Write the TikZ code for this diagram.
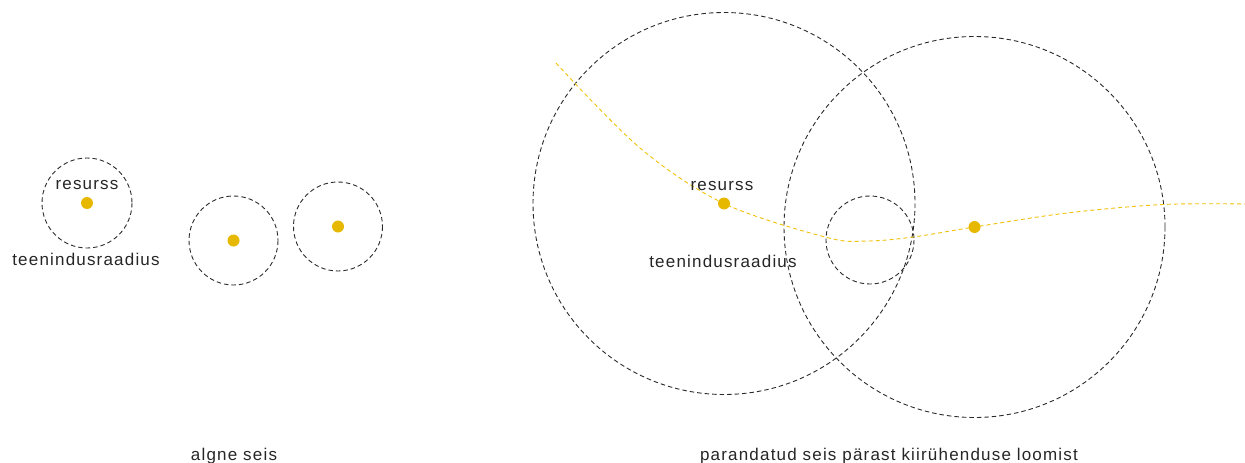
\documentclass[tikz,border=0pt]{standalone}
\usepackage{fontspec}
\newfontfamily\lblfont[LetterSpace=7]{Liberation Sans}
\definecolor{ringgray}{HTML}{2A2A2A}
\definecolor{resyellow}{HTML}{E6B800}
\definecolor{linkyellow}{HTML}{F0C20A}
\begin{document}
\begin{tikzpicture}[x=1pt,y=-1pt,
  ring/.style={draw=ringgray,line width=0.9pt,dash pattern=on 4.5pt off 3pt},
  resdot/.style={circle,fill=resyellow,inner sep=0pt,minimum size=12pt},
  lbl/.style={font=\lblfont\fontsize{17}{20}\selectfont,text=black!85,inner sep=0pt,anchor=base},
  link/.style={draw=linkyellow,line width=0.9pt,dash pattern=on 4pt off 3pt}]
\useasboundingbox (0,0) rectangle (1245,463);

% --- initial state ---
\coordinate (a1) at (87,203);
\coordinate (a2) at (233.5,240.5);
\coordinate (a3) at (338,226.5);
\draw[ring] (a1) circle (45);
\draw[ring] (a2) circle (44.5);
\draw[ring] (a3) circle (44.5);
\node[resdot] (d1) at (a1) {};
\node[resdot] (d2) at (a2) {};
\node[resdot] (d3) at (a3) {};
\node[lbl] (r1) at (87,189) {resurss};
\node[lbl] (t1) at (86,265) {teenindusraadius};
\node[lbl] (cap1) at (234,460) {algne seis};

% --- improved state after the fast link ---
\coordinate (b1) at (724,203.5);
\coordinate (b2) at (974.5,227);
\coordinate (b3) at (870,240);
\draw[ring] (b1) circle (191);
\draw[ring] (b2) circle (190.5);
\draw[ring] (b3) circle (44);
\coordinate (ls) at (556,63);
\coordinate (le) at (1245,204);
\draw[link] plot[smooth,tension=0.55] coordinates {
  (ls) (640,148) (b1) (827,237.5) (868,241) (913,237) (b2) (1067,213) (1163,204.5) (le)};
\node[resdot] (e1) at (b1) {};
\node[resdot] (e2) at (b2) {};
\node[lbl] (r2) at (722,190) {resurss};
\node[lbl] (t2) at (723,267) {teenindusraadius};
\node[lbl] (cap2) at (889,460) {parandatud seis pärast kiirühenduse loomist};
\end{tikzpicture}
\end{document}
